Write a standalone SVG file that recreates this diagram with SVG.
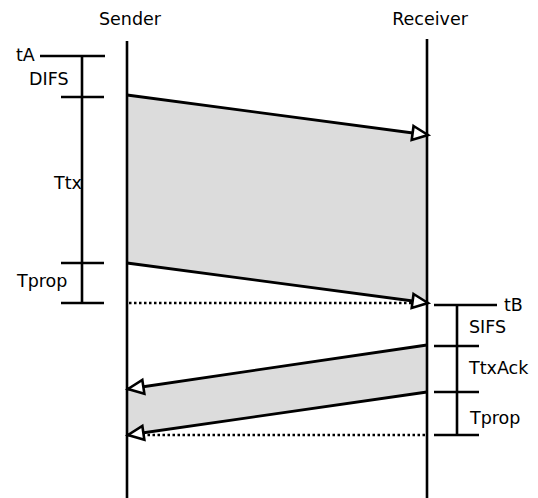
<svg xmlns="http://www.w3.org/2000/svg" width="538" height="498" viewBox="0 0 538 498">
<style>
text{font-family:"DejaVu Sans","Liberation Sans",sans-serif;font-size:17.5px;fill:#000}
.ln{stroke:#000;stroke-width:2.6;fill:none}
.msg{stroke:#000;stroke-width:2.8;fill:none;marker-end:url(#ah)}
.dot{stroke:#000;stroke-width:2.6;fill:none;stroke-dasharray:2.5 2.5}
.band{fill:#dcdcdc;stroke:none}
</style>
<defs>
<marker id="ah" markerUnits="userSpaceOnUse" markerWidth="24" markerHeight="24" refX="17" refY="8" orient="auto" overflow="visible">
<path d="M1.5,1 L17,8 L1.5,15 Z" fill="#fff" stroke="#000" stroke-width="2.6" stroke-linejoin="miter"/>
</marker>
</defs>
<rect width="538" height="498" fill="#fff"/>
<g id="bands">
<polygon class="band" points="127,95 427,135 427,303 127,263"/>
<polygon class="band" points="127,389 427,345 427,392 127,435"/>
</g>
<g id="sender">
<text x="130" y="25" text-anchor="middle">Sender</text>
<line class="ln" x1="127" y1="41" x2="127" y2="498"/>
</g>
<g id="receiver">
<text x="430" y="25" text-anchor="middle">Receiver</text>
<line class="ln" x1="427" y1="39" x2="427" y2="498"/>
</g>
<g id="left-scale">
<line class="ln" x1="40" y1="56" x2="105" y2="56"/>
<line class="ln" x1="61" y1="97" x2="104" y2="97"/>
<line class="ln" x1="61" y1="263" x2="104" y2="263"/>
<line class="ln" x1="61" y1="303" x2="104" y2="303"/>
<line class="ln" x1="82" y1="56" x2="82" y2="303"/>
<text x="16" y="61">tA</text>
<text x="29" y="85">DIFS</text>
<text x="54" y="189">Ttx</text>
<text x="17" y="287">Tprop</text>
</g>
<g id="right-scale">
<line class="ln" x1="434" y1="305" x2="497" y2="305"/>
<line class="ln" x1="434" y1="346" x2="479" y2="346"/>
<line class="ln" x1="434" y1="392" x2="479" y2="392"/>
<line class="ln" x1="434" y1="435" x2="479" y2="435"/>
<line class="ln" x1="457" y1="305" x2="457" y2="435"/>
<text x="504" y="311">tB</text>
<text x="469" y="333">SIFS</text>
<text x="469" y="374">TtxAck</text>
<text x="470" y="424">Tprop</text>
</g>
<g id="connectors">
<line class="msg" x1="127" y1="95" x2="428" y2="135"/>
<line class="msg" x1="127" y1="263" x2="428" y2="303"/>
<line class="dot" x1="129" y1="303" x2="412" y2="303"/>
<line class="msg" x1="427" y1="345" x2="128" y2="389"/>
<line class="msg" x1="427" y1="392" x2="128" y2="435"/>
<line class="dot" x1="425" y1="435" x2="144" y2="435"/>
</g>
</svg>
